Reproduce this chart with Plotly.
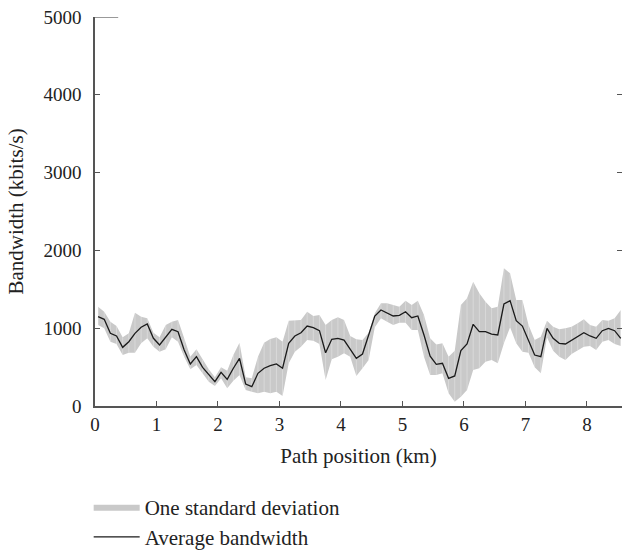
import plotly.graph_objects as go

# Path position of each 100 m bin centre (km)
position_km = [
    0.05, 0.15, 0.25, 0.35, 0.45, 0.55, 0.65, 0.75, 0.85, 0.95,
    1.05, 1.15, 1.25, 1.35, 1.45, 1.55, 1.65, 1.75, 1.85, 1.95,
    2.05, 2.15, 2.25, 2.35, 2.45, 2.55, 2.65, 2.75, 2.85, 2.95,
    3.05, 3.15, 3.25, 3.35, 3.45, 3.55, 3.65, 3.75, 3.85, 3.95,
    4.05, 4.15, 4.25, 4.35, 4.45, 4.55, 4.65, 4.75, 4.85, 4.95,
    5.05, 5.15, 5.25, 5.35, 5.45, 5.55, 5.65, 5.75, 5.85, 5.95,
    6.05, 6.15, 6.25, 6.35, 6.45, 6.55, 6.65, 6.75, 6.85, 6.95,
    7.05, 7.15, 7.25, 7.35, 7.45, 7.55, 7.65, 7.75, 7.85, 7.95,
    8.05, 8.15, 8.25, 8.35, 8.45, 8.55,
]

# Average bandwidth (kbits/s)
avg_bandwidth = [
    1148, 1114, 934, 900, 754, 826, 934, 1012, 1054, 870,
    784, 883, 986, 955, 720, 540, 634, 497, 398, 312,
    433, 343, 485, 613, 283, 248, 420, 485, 520, 540,
    485, 806, 900, 942, 1028, 1006, 968, 685, 857, 870,
    848, 729, 613, 668, 900, 1157, 1234, 1199, 1157, 1166,
    1212, 1135, 1157, 913, 640, 535, 549, 356, 386, 711,
    797, 1050, 955, 955, 925, 913, 1311, 1354, 1097, 1028,
    848, 655, 634, 998, 870, 806, 797, 848, 891, 942,
    900, 870, 968, 998, 968, 870,
]

# Upper edge of the one-standard-deviation band (kbits/s)
band_upper = [
    1276, 1212, 1084, 1028, 883, 934, 1199, 1148, 1127, 942,
    883, 1041, 1084, 1105, 870, 634, 729, 591, 472, 369,
    497, 454, 655, 814, 369, 356, 634, 814, 860, 883,
    826, 1097, 1105, 1105, 1212, 1157, 1170, 1041, 1105, 1140,
    1105, 900, 857, 848, 942, 1191, 1320, 1320, 1298, 1276,
    1354, 1298, 1354, 1170, 870, 790, 806, 634, 711, 1298,
    1384, 1598, 1449, 1341, 1256, 1276, 1770, 1706, 1362, 1362,
    1041, 848, 891, 1097, 1019, 986, 998, 1019, 1063, 1114,
    1041, 1019, 1105, 1097, 1127, 1234,
]

# Lower edge of the one-standard-deviation band (kbits/s)
band_lower = [
    1041, 998, 826, 797, 655, 685, 685, 806, 870, 762,
    698, 729, 883, 826, 634, 472, 527, 420, 312, 257,
    356, 227, 325, 398, 206, 184, 163, 184, 163, 184,
    129, 549, 698, 762, 848, 839, 797, 334, 600, 634,
    677, 634, 386, 485, 591, 1011, 1127, 1084, 1041, 1071,
    1071, 977, 977, 634, 398, 400, 420, 163, 55, 120,
    206, 463, 485, 570, 591, 549, 806, 1011, 806, 698,
    685, 497, 420, 883, 711, 634, 591, 668, 720, 762,
    771, 720, 826, 848, 797, 771,
]

x_ticks = [0, 1, 2, 3, 4, 5, 6, 7, 8]
y_ticks = [0, 1000, 2000, 3000, 4000, 5000]

SERIF = "Liberation Serif, Times New Roman, Times, DejaVu Serif, serif"
TEXT = "#222222"
BAND = "#c9c9c9"
AXIS = "#555555"

fig = go.Figure()

# lower boundary (invisible), then upper boundary filled down to it
fig.add_trace(go.Scatter(
    x=position_km, y=band_lower, mode="lines",
    line=dict(width=0, color=BAND), hoverinfo="skip", showlegend=False,
))
fig.add_trace(go.Scatter(
    x=position_km, y=band_upper, mode="lines", fill="tonexty",
    fillcolor=BAND, line=dict(width=0, color=BAND),
    name="One standard deviation",
))

# faint seams between the band segments
seam_x, seam_y = [], []
for xv, lo, hi in zip(position_km, band_lower, band_upper):
    seam_x += [xv, xv, None]
    seam_y += [lo, hi, None]
fig.add_trace(go.Scatter(
    x=seam_x, y=seam_y, mode="lines",
    line=dict(width=1, color="rgba(255,255,255,0.3)"),
    hoverinfo="skip", showlegend=False,
))

fig.add_trace(go.Scatter(
    x=position_km, y=avg_bandwidth, mode="lines",
    line=dict(width=1.3, color="#1a1a1a"),
    name="Average bandwidth",
))

# short cap stroke at the top of the value axis
fig.add_shape(
    type="line", xref="paper", yref="y",
    x0=0, x1=0.044, y0=y_ticks[-1], y1=y_ticks[-1],
    line=dict(color=AXIS, width=1.2),
)

fig.update_layout(
    width=622, height=550,
    margin=dict(l=95, r=0, t=17, b=144, autoexpand=False),
    paper_bgcolor="white", plot_bgcolor="white",
    font=dict(family=SERIF, size=19, color=TEXT),
    showlegend=True,
    legend=dict(
        x=-0.012, y=-0.207, xanchor="left", yanchor="top",
        traceorder="normal",
        font=dict(family=SERIF, size=21, color=TEXT),
        bgcolor="rgba(0,0,0,0)", itemwidth=46, tracegroupgap=0,
    ),
    xaxis=dict(
        range=[0, 8.57], tickvals=x_ticks,
        ticks="inside", ticklen=5, tickwidth=1, tickcolor=AXIS,
        showline=True, linecolor=AXIS, linewidth=1.5,
        showgrid=False, zeroline=False,
        tickfont=dict(family=SERIF, size=19, color=TEXT),
        title=dict(text="Path position (km)", standoff=15,
                   font=dict(family=SERIF, size=21, color=TEXT)),
    ),
    yaxis=dict(
        range=[0, 5000], tickvals=y_ticks,
        ticks="inside", ticklen=5, tickwidth=1, tickcolor=AXIS,
        showline=True, linecolor=AXIS, linewidth=1.5, mirror="ticks",
        showgrid=False, zeroline=False,
        ticklabelstandoff=8,
        tickfont=dict(family=SERIF, size=19, color=TEXT),
        title=dict(text="Bandwidth (kbits/s)", standoff=14,
                   font=dict(family=SERIF, size=21, color=TEXT)),
    ),
)

fig.write_html("out.html")
